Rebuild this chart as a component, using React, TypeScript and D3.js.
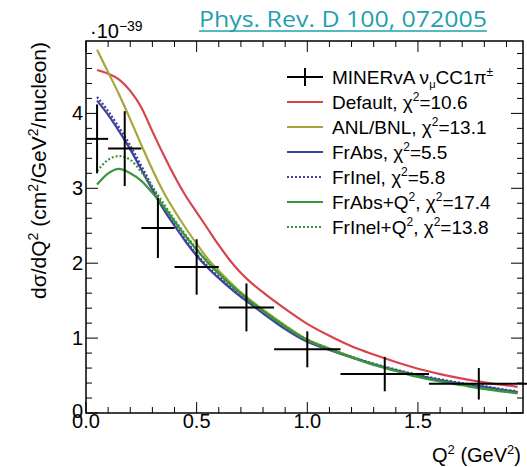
import React from 'react';
import * as d3 from 'd3';

// MINERvA data points (bins in Q2, cross section in 1e-39 cm2/GeV2/nucleon)
const binLo = [0.0, 0.1, 0.25, 0.4, 0.6, 0.85, 1.15, 1.55];
const binHi = [0.1, 0.25, 0.4, 0.6, 0.85, 1.15, 1.55, 2.0];
const dataX = [0.05, 0.175, 0.325, 0.5, 0.725, 1.0, 1.35, 1.775];
const dataY = [3.66, 3.53, 2.47, 1.95, 1.41, 0.85, 0.52, 0.39];
const dataErr = [0.46, 0.5, 0.4, 0.37, 0.32, 0.24, 0.23, 0.21];

// model curves
const curveX = [0.05, 0.1, 0.15, 0.2, 0.25, 0.3, 0.35, 0.4, 0.45, 0.5, 0.55, 0.6, 0.65, 0.7, 0.75, 0.8, 0.9, 1.0, 1.1, 1.2, 1.3, 1.4, 1.5, 1.6, 1.7, 1.8, 1.9, 1.95];
const defaultY = [4.58, 4.53, 4.45, 4.3, 4.08, 3.76, 3.45, 3.16, 2.9, 2.68, 2.46, 2.24, 2.04, 1.87, 1.73, 1.61, 1.39, 1.19, 1.03, 0.89, 0.78, 0.68, 0.59, 0.52, 0.46, 0.41, 0.37, 0.35];
const anlY = [4.85, 4.55, 4.25, 3.92, 3.58, 3.25, 2.95, 2.7, 2.47, 2.26, 2.06, 1.9, 1.75, 1.61, 1.49, 1.38, 1.17, 0.98, 0.86, 0.75, 0.65, 0.57, 0.5, 0.43, 0.38, 0.34, 0.29, 0.27];
const frAbsY = [4.17, 3.98, 3.76, 3.52, 3.25, 2.98, 2.72, 2.5, 2.29, 2.1, 1.94, 1.8, 1.67, 1.55, 1.44, 1.33, 1.12, 0.95, 0.84, 0.74, 0.65, 0.57, 0.5, 0.44, 0.39, 0.35, 0.3, 0.28];
const frInelY = [4.22, 4.03, 3.81, 3.57, 3.3, 3.02, 2.75, 2.52, 2.31, 2.12, 1.96, 1.82, 1.69, 1.57, 1.46, 1.35, 1.14, 0.97, 0.85, 0.75, 0.66, 0.58, 0.51, 0.45, 0.4, 0.36, 0.31, 0.29];
const frAbsQ2Y = [3.05, 3.2, 3.26, 3.2, 3.1, 2.94, 2.76, 2.56, 2.36, 2.18, 2.01, 1.86, 1.72, 1.59, 1.47, 1.36, 1.15, 0.97, 0.85, 0.74, 0.64, 0.56, 0.48, 0.42, 0.37, 0.32, 0.28, 0.26];
const frInelQ2Y = [3.23, 3.38, 3.43, 3.38, 3.22, 3.02, 2.8, 2.58, 2.38, 2.19, 2.02, 1.87, 1.73, 1.6, 1.48, 1.37, 1.16, 0.98, 0.86, 0.75, 0.65, 0.57, 0.49, 0.43, 0.38, 0.33, 0.29, 0.27];

const xTicks = [0, 0.5, 1.0, 1.5];
const xTickLabels = ['0.0', '0.5', '1.0', '1.5'];
const yTicks = [0, 1, 2, 3, 4];

const models = [
  { name: 'Default', chi: '10.6', ys: defaultY, color: '#d8434c', dash: '' },
  { name: 'ANL/BNL', chi: '13.1', ys: anlY, color: '#a7a63c', dash: '' },
  { name: 'FrAbs', chi: '5.5', ys: frAbsY, color: '#40409e', dash: '' },
  { name: 'FrInel', chi: '5.8', ys: frInelY, color: '#40409e', dash: '2,2' },
  { name: 'FrAbs+Q', chi: '17.4', ys: frAbsQ2Y, color: '#38973a', dash: '', q2: true },
  { name: 'FrInel+Q', chi: '13.8', ys: frInelQ2Y, color: '#38973a', dash: '2,2', q2: true },
];

const W = 527, H = 467;
const L = 86, T = 41, R = 523, B = 413;
const font = '"Liberation Sans", Arial, sans-serif';

export default function App() {
  const x = d3.scaleLinear().domain([0, (R - L) / 221.3]).range([L, R]);
  const y = d3.scaleLinear().domain([0, (B - T) / 74.9]).range([B, T]);
  const line = d3.line<number>().x((_, i) => x(curveX[i])).y((d) => y(d)).curve(d3.curveMonotoneX);

  const xMinor = d3.range(0, 20).map((i) => i / 10).filter((v) => x(v) <= R);
  const yMinor = d3.range(0, 25).map((i) => i / 5).filter((v) => y(v) >= T);

  const legendY0 = 77;
  const legendStep = 25;

  return (
    <svg width={W} height={H} style={{ position: 'absolute', left: 0, top: 0, background: '#fff' }}>
      {/* reference link */}
      <text x={199} y={27} fontFamily='"Open Sans", sans-serif' fontSize={22} fill="#1fa0ad" textLength={288} lengthAdjust="spacingAndGlyphs">
        Phys. Rev. D 100, 072005
      </text>
      <line x1={199} x2={487} y1={31} y2={31} stroke="#1fa0ad" strokeWidth={1.5} />

      {/* frame */}
      <rect x={L} y={T} width={R - L} height={B - T} fill="none" stroke="#000" strokeWidth={1.5} />

      {/* x ticks bottom and top */}
      {xMinor.map((v, i) => {
        const major = Math.abs(v * 2 - Math.round(v * 2)) < 1e-6;
        const len = major ? 11 : 6;
        return (
          <g key={'xt' + i} stroke="#000" strokeWidth={1}>
            <line x1={x(v)} x2={x(v)} y1={B} y2={B - len} />
            <line x1={x(v)} x2={x(v)} y1={T} y2={T + len} />
          </g>
        );
      })}
      {yMinor.map((v, i) => {
        const major = Math.abs(v - Math.round(v)) < 1e-6;
        const len = major ? 12 : 6;
        return (
          <g key={'yt' + i} stroke="#000" strokeWidth={1}>
            <line x1={L} x2={L + len} y1={y(v)} y2={y(v)} />
            <line x1={R} x2={R - len} y1={y(v)} y2={y(v)} />
          </g>
        );
      })}

      {/* tick labels */}
      {xTicks.map((v, i) => (
        <text key={'xl' + i} x={x(v)} y={428} textAnchor="middle" fontFamily={font} fontSize={20} fill="#000">
          {xTickLabels[i]}
        </text>
      ))}
      {yTicks.map((v) => (
        <text key={'yl' + v} x={83} y={y(v) + (v === 0 ? 5 : 7)} textAnchor="end" fontFamily={font} fontSize={20} fill="#000">
          {v}
        </text>
      ))}
      <text x={90} y={38} fontFamily={font} fontSize={20} fill="#000">
        ·10<tspan dy={-7} fontSize={14}>−39</tspan>
      </text>

      {/* axis titles */}
      <text x={521} y={462} textAnchor="end" fontFamily={font} fontSize={20} fill="#000">
        Q<tspan dy={-8} fontSize={13}>2</tspan><tspan dy={8}> (GeV</tspan><tspan dy={-8} fontSize={13}>2</tspan><tspan dy={8}>)</tspan>
      </text>
      <text transform="translate(46,42) rotate(-90)" textAnchor="end" fontFamily={font} fontSize={21} fill="#000">
        dσ/dQ<tspan dy={-8} fontSize={14}>2</tspan><tspan dy={8}> (cm</tspan><tspan dy={-8} fontSize={14}>2</tspan><tspan dy={8}>/GeV</tspan><tspan dy={-8} fontSize={14}>2</tspan><tspan dy={8}>/nucleon)</tspan>
      </text>

      {/* model curves */}
      {models.map((m) => (
        <path key={m.name} d={line(m.ys) || ''} fill="none" stroke={m.color} strokeWidth={2.2} strokeDasharray={m.dash} />
      ))}

      {/* data */}
      {dataX.map((v, i) => (
        <g key={'d' + i} stroke="#000" strokeWidth={2}>
          <line x1={x(binLo[i])} x2={x(binHi[i])} y1={y(dataY[i])} y2={y(dataY[i])} />
          <line x1={x(v)} x2={x(v)} y1={y(dataY[i] - dataErr[i])} y2={y(dataY[i] + dataErr[i])} />
        </g>
      ))}

      {/* legend */}
      <g>
        <line x1={287} x2={323} y1={legendY0} y2={legendY0} stroke="#000" strokeWidth={2} />
        <line x1={305} x2={305} y1={legendY0 - 9} y2={legendY0 + 9} stroke="#000" strokeWidth={2} />
        <text x={332} y={legendY0 + 7} fontFamily={font} fontSize={19} fill="#000">
          MINERvA ν<tspan dy={4} fontSize={11}>μ</tspan><tspan dy={-4}>CC1π</tspan><tspan dy={-8} fontSize={12}>±</tspan>
        </text>
        {models.map((m, i) => {
          const yy = legendY0 + (i + 1) * legendStep;
          return (
            <g key={'lg' + m.name}>
              <line x1={287} x2={323} y1={yy} y2={yy} stroke={m.color} strokeWidth={2.2} strokeDasharray={m.dash} />
              <text x={332} y={yy + 7} fontFamily={font} fontSize={19} fill="#000">
                {m.name}
                {m.q2 ? <tspan dy={-8} fontSize={12}>2</tspan> : null}
                <tspan dy={m.q2 ? 8 : 0}>, χ</tspan>
                <tspan dy={-8} fontSize={12}>2</tspan>
                <tspan dy={8}>={m.chi}</tspan>
              </text>
            </g>
          );
        })}
      </g>
    </svg>
  );
}
